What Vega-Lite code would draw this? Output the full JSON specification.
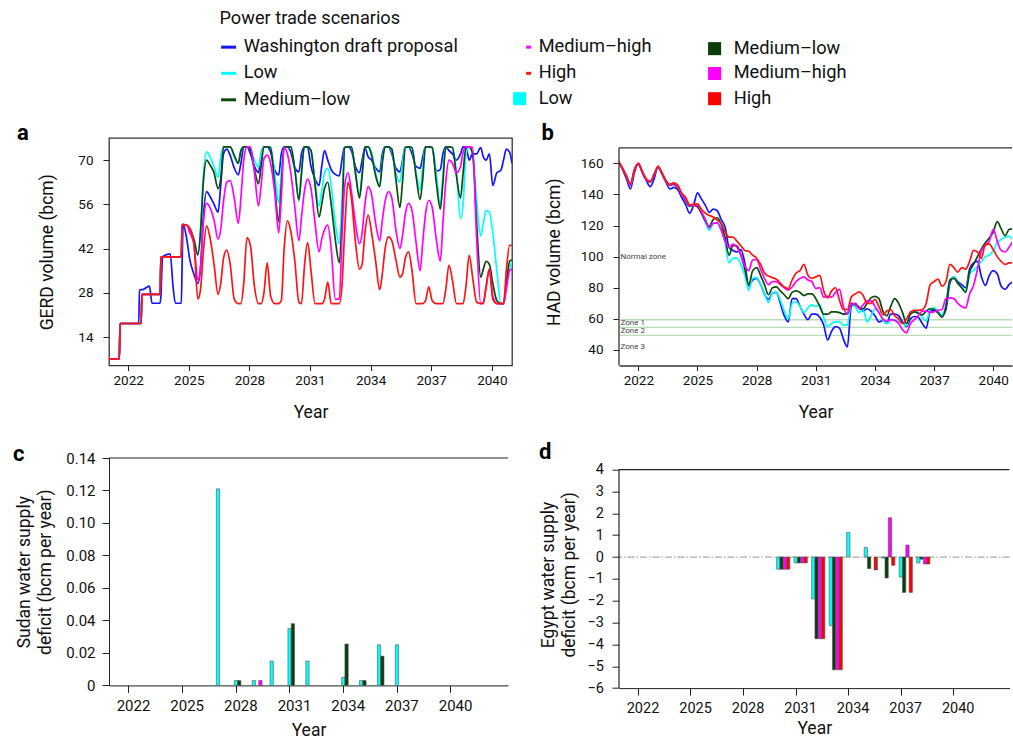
{
  "$schema": "https://vega.github.io/schema/vega-lite/v6.json",
  "padding": {"left": 13, "top": 9, "right": 0, "bottom": 0},
  "autosize": {"type": "pad"},
  "config": {
    "font": "Roboto",
    "view": {"stroke": null},
    "axis": {"labelFont": "Roboto", "titleFont": "Roboto", "labelColor": "#111", "titleColor": "#111", "titleFontWeight": "normal", "domainColor": "#222", "tickColor": "#222", "grid": false, "labelFontSize": 13.5, "titleFontSize": 17.5, "labelOverlap": false},
    "title": {"font": "Roboto", "fontSize": 22, "fontWeight": "bold", "anchor": "start", "frame": "group", "baseline": "alphabetic", "color": "#000"}
  },
  "datasets": {
    "gerd": [
      {"t":2021.05,"W":7.1,"L":7.1,"ML":7.1,"MH":7.1,"H":7.1},
      {"t":2021.56,"W":7.1,"L":7.1,"ML":7.1,"MH":7.1,"H":7.1},
      {"t":2021.6,"W":18.3,"L":18.3,"ML":18.3,"MH":18.3,"H":18.3},
      {"t":2022.52,"W":18.3,"L":18.3,"ML":18.3,"MH":18.3,"H":18.3},
      {"t":2022.56,"W":28.9,"L":18.3,"ML":18.3,"MH":18.3,"H":18.3},
      {"t":2022.64,"W":29,"L":18.3,"ML":18.3,"MH":18.3,"H":18.3},
      {"t":2022.68,"W":29,"L":27.5,"ML":27.5,"MH":27.5,"H":27.5},
      {"t":2023.05,"W":30.1,"L":27.5,"ML":27.5,"MH":27.5,"H":27.5},
      {"t":2023.18,"W":24.7,"L":27.5,"ML":27.5,"MH":27.5,"H":27.5},
      {"t":2023.58,"W":24.7,"L":27.5,"ML":27.5,"MH":27.5,"H":27.5},
      {"t":2023.62,"W":27,"L":39.4,"ML":39.4,"MH":39.4,"H":39.4},
      {"t":2023.7,"W":39.4,"L":39.4,"ML":39.4,"MH":39.4,"H":39.4},
      {"t":2024.08,"W":40.3,"L":39.4,"ML":39.4,"MH":39.4,"H":39.4},
      {"t":2024.22,"W":30,"L":39.4,"ML":39.4,"MH":39.4,"H":39.4},
      {"t":2024.34,"W":24.7,"L":39.4,"ML":39.4,"MH":39.4,"H":39.4},
      {"t":2024.63,"W":24.7,"L":39.4,"ML":39.4,"MH":39.4,"H":39.4},
      {"t":2024.67,"W":37,"L":49.6,"ML":49.6,"MH":49.6,"H":49.6},
      {"t":2024.72,"W":49.6,"L":49.6,"ML":49.6,"MH":49.6,"H":49.6},
      {"t":2024.9,"W":45,"L":49.4,"ML":49.4,"MH":49.4,"H":49.4},
      {"t":2025.05,"W":38.5,"L":48,"ML":48,"MH":47,"H":48.5},
      {"t":2025.25,"W":34,"L":45,"ML":45,"MH":43.5,"H":44},
      {"t":2025.45,"W":31,"L":40,"ML":40,"MH":32,"H":26},
      {"t":2025.58,"W":36,"L":48,"ML":47,"MH":36,"H":29},
      {"t":2025.72,"W":52,"L":65,"ML":63,"MH":50,"H":41},
      {"t":2025.88,"W":60,"L":72.6,"ML":70,"MH":56.3,"H":49.2},
      {"t":2026.05,"W":58.5,"L":71,"ML":68.5,"MH":55,"H":45.5},
      {"t":2026.25,"W":56,"L":68,"ML":66,"MH":51,"H":37},
      {"t":2026.45,"W":53.5,"L":64.5,"ML":61,"MH":45,"H":27.5},
      {"t":2026.58,"W":62,"L":71,"ML":64,"MH":48,"H":31},
      {"t":2026.72,"W":72,"L":74.2,"ML":74.2,"MH":57,"H":39},
      {"t":2026.88,"W":73.5,"L":74.2,"ML":74.2,"MH":63,"H":41.5},
      {"t":2027.05,"W":71.5,"L":74.2,"ML":74.2,"MH":63.5,"H":37},
      {"t":2027.25,"W":67.5,"L":71,"ML":71.5,"MH":58,"H":26},
      {"t":2027.45,"W":65.3,"L":69,"ML":69,"MH":50,"H":24.6},
      {"t":2027.58,"W":69,"L":73,"ML":73,"MH":58,"H":24.6},
      {"t":2027.72,"W":74.2,"L":74.2,"ML":74.2,"MH":70,"H":31},
      {"t":2027.88,"W":74.2,"L":74.2,"ML":74.2,"MH":74.2,"H":45.5},
      {"t":2028.05,"W":72,"L":73.5,"ML":73.5,"MH":74.2,"H":43},
      {"t":2028.25,"W":68,"L":70,"ML":67,"MH":66,"H":30},
      {"t":2028.45,"W":66,"L":67.8,"ML":62.5,"MH":55.5,"H":24.6},
      {"t":2028.58,"W":72,"L":72,"ML":68,"MH":62,"H":24.6},
      {"t":2028.72,"W":74.2,"L":74.2,"ML":74.2,"MH":70.5,"H":28},
      {"t":2028.88,"W":74.2,"L":74.2,"ML":74.2,"MH":71.6,"H":37.5},
      {"t":2029.05,"W":72.5,"L":74,"ML":74,"MH":69,"H":27},
      {"t":2029.25,"W":67,"L":66,"ML":62,"MH":60,"H":24.6},
      {"t":2029.45,"W":65.3,"L":56.5,"ML":50.5,"MH":47,"H":24.6},
      {"t":2029.58,"W":72,"L":66,"ML":62,"MH":58,"H":25.5},
      {"t":2029.72,"W":74.2,"L":74.2,"ML":74.2,"MH":74,"H":42},
      {"t":2029.88,"W":74.2,"L":74.2,"ML":74.2,"MH":72,"H":50.8},
      {"t":2030.05,"W":72.5,"L":74.2,"ML":74.2,"MH":66,"H":47.5},
      {"t":2030.25,"W":67.5,"L":67,"ML":67,"MH":55,"H":38},
      {"t":2030.45,"W":66.3,"L":57,"ML":57.5,"MH":44.5,"H":25},
      {"t":2030.58,"W":72,"L":66,"ML":66,"MH":52,"H":24.6},
      {"t":2030.72,"W":74.2,"L":74.2,"ML":74.2,"MH":60,"H":36},
      {"t":2030.88,"W":74,"L":74.2,"ML":74.2,"MH":64,"H":44},
      {"t":2031.05,"W":68,"L":73,"ML":73,"MH":61,"H":35},
      {"t":2031.25,"W":64,"L":63,"ML":62,"MH":50,"H":24.6},
      {"t":2031.45,"W":62,"L":55.5,"ML":52,"MH":41,"H":24.6},
      {"t":2031.58,"W":68,"L":60,"ML":56,"MH":45,"H":24.6},
      {"t":2031.72,"W":73,"L":66,"ML":61,"MH":48,"H":26},
      {"t":2031.88,"W":70,"L":67.4,"ML":63,"MH":49.4,"H":31.4},
      {"t":2032.05,"W":67,"L":62,"ML":56,"MH":42,"H":24.6},
      {"t":2032.25,"W":65.5,"L":50,"ML":45,"MH":26,"H":24.6},
      {"t":2032.45,"W":65,"L":43.5,"ML":37.5,"MH":26,"H":24.6},
      {"t":2032.58,"W":70,"L":56,"ML":50,"MH":45,"H":30},
      {"t":2032.72,"W":74.2,"L":74.2,"ML":74,"MH":62,"H":48},
      {"t":2032.88,"W":74.2,"L":74.2,"ML":74.2,"MH":66,"H":63},
      {"t":2033.05,"W":73,"L":74.2,"ML":74.2,"MH":60,"H":58},
      {"t":2033.25,"W":68,"L":66,"ML":66,"MH":50,"H":44},
      {"t":2033.45,"W":66,"L":59,"ML":58,"MH":43.5,"H":35.5},
      {"t":2033.58,"W":70,"L":66,"ML":65,"MH":47,"H":37},
      {"t":2033.72,"W":74,"L":74.2,"ML":74.2,"MH":56,"H":47},
      {"t":2033.88,"W":71,"L":74.2,"ML":74.2,"MH":61.6,"H":52.6},
      {"t":2034.05,"W":70,"L":72.5,"ML":71.5,"MH":59,"H":47},
      {"t":2034.25,"W":67.5,"L":66,"ML":65,"MH":50,"H":38},
      {"t":2034.45,"W":66.3,"L":61.6,"ML":61.6,"MH":44.5,"H":29},
      {"t":2034.58,"W":72,"L":70,"ML":69,"MH":51,"H":34},
      {"t":2034.72,"W":74.2,"L":74.2,"ML":74.2,"MH":57,"H":42},
      {"t":2034.88,"W":74.2,"L":74.2,"ML":74.2,"MH":60,"H":45.7},
      {"t":2035.05,"W":72,"L":73,"ML":73.5,"MH":58,"H":44.5},
      {"t":2035.25,"W":67.5,"L":66,"ML":64,"MH":48,"H":38.5},
      {"t":2035.45,"W":66.3,"L":63,"ML":55,"MH":42,"H":33},
      {"t":2035.58,"W":70,"L":69,"ML":63,"MH":46,"H":34},
      {"t":2035.72,"W":74.2,"L":74.2,"ML":74,"MH":53,"H":39},
      {"t":2035.88,"W":74.2,"L":74.2,"ML":74.2,"MH":56.3,"H":41},
      {"t":2036.05,"W":72,"L":73.5,"ML":74,"MH":54,"H":35},
      {"t":2036.25,"W":68,"L":66,"ML":65,"MH":44,"H":24.6},
      {"t":2036.45,"W":67.4,"L":60.5,"ML":57.5,"MH":35,"H":24.6},
      {"t":2036.58,"W":71,"L":68,"ML":64,"MH":44,"H":24.6},
      {"t":2036.72,"W":74.2,"L":74.2,"ML":74.2,"MH":53,"H":25.5},
      {"t":2036.88,"W":74.2,"L":74.2,"ML":74.2,"MH":57.3,"H":29.9},
      {"t":2037.05,"W":74,"L":74,"ML":74,"MH":55,"H":25.5},
      {"t":2037.25,"W":66.5,"L":66,"ML":63,"MH":45,"H":24.6},
      {"t":2037.45,"W":67,"L":55.5,"ML":54.5,"MH":38,"H":24.6},
      {"t":2037.58,"W":72,"L":65,"ML":63,"MH":50,"H":24.6},
      {"t":2037.72,"W":74.2,"L":74.2,"ML":74.2,"MH":63,"H":29},
      {"t":2037.88,"W":73,"L":74.2,"ML":74.2,"MH":70,"H":36.8},
      {"t":2038.05,"W":72,"L":74,"ML":74,"MH":69,"H":32},
      {"t":2038.25,"W":70,"L":66,"ML":65,"MH":66,"H":24.6},
      {"t":2038.45,"W":72,"L":51.5,"ML":58,"MH":68,"H":24.6},
      {"t":2038.58,"W":74.2,"L":56,"ML":66,"MH":72.5,"H":24.6},
      {"t":2038.72,"W":74.2,"L":72,"ML":74.2,"MH":74.2,"H":30},
      {"t":2038.88,"W":70,"L":74.2,"ML":74.2,"MH":74.2,"H":39.9},
      {"t":2039.05,"W":72,"L":72,"ML":72,"MH":74,"H":33},
      {"t":2039.25,"W":72,"L":57,"ML":50,"MH":45,"H":25},
      {"t":2039.45,"W":74,"L":46,"ML":33,"MH":24.6,"H":24.6},
      {"t":2039.58,"W":71,"L":50,"ML":35.5,"MH":25,"H":24.6},
      {"t":2039.72,"W":70,"L":54,"ML":38,"MH":30,"H":30},
      {"t":2039.88,"W":72,"L":53.5,"ML":37,"MH":35.5,"H":35.5},
      {"t":2040.05,"W":62,"L":47,"ML":31,"MH":27,"H":26},
      {"t":2040.25,"W":66,"L":35,"ML":25.5,"MH":24.6,"H":24.6},
      {"t":2040.45,"W":66.8,"L":24.6,"ML":24.6,"MH":24.6,"H":24.6},
      {"t":2040.58,"W":70,"L":24.6,"ML":24.6,"MH":24.6,"H":24.6},
      {"t":2040.72,"W":73.5,"L":31,"ML":31,"MH":29,"H":35},
      {"t":2040.88,"W":72.5,"L":36,"ML":38,"MH":35,"H":43},
      {"t":2041.0,"W":69,"L":37.8,"ML":38.4,"MH":35.5,"H":43}
    ],
    "had": [
      {"t":2021.0,"W":161,"L":161,"ML":161,"MH":161,"H":161.5},
      {"t":2021.2,"W":156,"L":156.5,"ML":156.5,"MH":156.5,"H":157},
      {"t":2021.4,"W":150,"L":151.5,"ML":151.5,"MH":151.5,"H":152},
      {"t":2021.6,"W":143.5,"L":146,"ML":146,"MH":146,"H":147},
      {"t":2021.8,"W":154,"L":155.5,"ML":155.5,"MH":155.5,"H":156},
      {"t":2022.0,"W":160,"L":159.5,"ML":159.5,"MH":159.5,"H":160},
      {"t":2022.2,"W":154,"L":154.5,"ML":154.5,"MH":154.5,"H":155},
      {"t":2022.4,"W":149,"L":149.5,"ML":149.5,"MH":149.5,"H":150},
      {"t":2022.6,"W":145,"L":148,"ML":148,"MH":148,"H":148.5},
      {"t":2022.8,"W":150,"L":152.5,"ML":152.5,"MH":152.5,"H":153},
      {"t":2023.0,"W":158,"L":157.5,"ML":157.5,"MH":157.5,"H":158},
      {"t":2023.2,"W":153,"L":153.5,"ML":153.5,"MH":153.5,"H":154},
      {"t":2023.4,"W":148,"L":148.5,"ML":148.5,"MH":148.5,"H":149},
      {"t":2023.6,"W":143.5,"L":146,"ML":146,"MH":146,"H":146.5},
      {"t":2023.8,"W":144.5,"L":146.5,"ML":146.5,"MH":147,"H":147.5},
      {"t":2024.0,"W":143,"L":144.5,"ML":144.5,"MH":145,"H":146},
      {"t":2024.2,"W":138,"L":140,"ML":140,"MH":140,"H":141},
      {"t":2024.4,"W":133.5,"L":136,"ML":136,"MH":136.5,"H":138},
      {"t":2024.6,"W":128,"L":132.5,"ML":132.5,"MH":133,"H":133.5},
      {"t":2024.8,"W":133,"L":133,"ML":133,"MH":133,"H":133.5},
      {"t":2025.0,"W":141,"L":132.5,"ML":132,"MH":133,"H":134},
      {"t":2025.2,"W":137,"L":128,"ML":128,"MH":129,"H":130.5},
      {"t":2025.4,"W":133,"L":122,"ML":123,"MH":124,"H":128},
      {"t":2025.6,"W":128.5,"L":117,"ML":119.5,"MH":118.5,"H":126.5},
      {"t":2025.8,"W":130.5,"L":121,"ML":124,"MH":121.5,"H":125.5},
      {"t":2026.0,"W":129.5,"L":122,"ML":125,"MH":121.5,"H":123.5},
      {"t":2026.2,"W":124,"L":118,"ML":121,"MH":117,"H":121.5},
      {"t":2026.4,"W":119,"L":109,"ML":112,"MH":110,"H":116},
      {"t":2026.6,"W":106,"L":96,"ML":101,"MH":106,"H":112.5},
      {"t":2026.8,"W":104,"L":99,"ML":107,"MH":108,"H":112.5},
      {"t":2027.0,"W":103,"L":99,"ML":107,"MH":106,"H":110},
      {"t":2027.2,"W":104.5,"L":95,"ML":101,"MH":101,"H":107},
      {"t":2027.4,"W":96,"L":88,"ML":92,"MH":94,"H":104},
      {"t":2027.6,"W":81,"L":78.5,"ML":82,"MH":91,"H":103.5},
      {"t":2027.8,"W":85,"L":86,"ML":91,"MH":98,"H":101},
      {"t":2028.0,"W":86,"L":86.5,"ML":93,"MH":98,"H":99},
      {"t":2028.2,"W":82,"L":82,"ML":88,"MH":92,"H":95},
      {"t":2028.4,"W":76,"L":76,"ML":82,"MH":86,"H":89.5},
      {"t":2028.6,"W":72.5,"L":70.5,"ML":75.5,"MH":82,"H":87.5},
      {"t":2028.8,"W":76.5,"L":76.5,"ML":80,"MH":84,"H":86.5},
      {"t":2029.0,"W":77,"L":77,"ML":80.5,"MH":84,"H":85.5},
      {"t":2029.2,"W":70,"L":72,"ML":78,"MH":82,"H":83},
      {"t":2029.4,"W":62,"L":65,"ML":75.5,"MH":80,"H":80.5},
      {"t":2029.6,"W":58,"L":60,"ML":73,"MH":78.5,"H":79.5},
      {"t":2029.8,"W":73,"L":70,"ML":77,"MH":80.5,"H":85},
      {"t":2030.0,"W":73,"L":71,"ML":78,"MH":84,"H":89.5},
      {"t":2030.2,"W":68,"L":68,"ML":77,"MH":86,"H":91},
      {"t":2030.4,"W":63,"L":64,"ML":75,"MH":87,"H":95},
      {"t":2030.6,"W":59.5,"L":67,"ML":76,"MH":85,"H":88},
      {"t":2030.8,"W":63,"L":69,"ML":76,"MH":84,"H":86},
      {"t":2031.0,"W":63,"L":68,"ML":73,"MH":79.5,"H":87},
      {"t":2031.2,"W":61,"L":69,"ML":68,"MH":80,"H":88},
      {"t":2031.4,"W":56,"L":61,"ML":63,"MH":74,"H":78},
      {"t":2031.6,"W":46.5,"L":55,"ML":63,"MH":74.5,"H":73.5},
      {"t":2031.8,"W":52,"L":57,"ML":64.5,"MH":74,"H":78},
      {"t":2032.0,"W":55,"L":58,"ML":64.5,"MH":77,"H":80},
      {"t":2032.2,"W":54,"L":58,"ML":64,"MH":79,"H":72},
      {"t":2032.4,"W":47,"L":56,"ML":63,"MH":68,"H":66},
      {"t":2032.6,"W":42,"L":56,"ML":63.5,"MH":63,"H":66},
      {"t":2032.8,"W":68,"L":70,"ML":70,"MH":70,"H":74},
      {"t":2033.0,"W":70,"L":68,"ML":69,"MH":69.5,"H":76},
      {"t":2033.2,"W":67,"L":64,"ML":67.5,"MH":66.5,"H":77.3},
      {"t":2033.4,"W":65,"L":66,"ML":66.5,"MH":69,"H":75},
      {"t":2033.6,"W":66.5,"L":58,"ML":70,"MH":71.5,"H":70},
      {"t":2033.8,"W":65,"L":62,"ML":73.5,"MH":71.5,"H":70},
      {"t":2034.0,"W":62,"L":66.5,"ML":74.5,"MH":68,"H":72.5},
      {"t":2034.2,"W":58,"L":64,"ML":73,"MH":64,"H":68},
      {"t":2034.4,"W":59,"L":59,"ML":65,"MH":60,"H":62.5},
      {"t":2034.6,"W":57,"L":57,"ML":62,"MH":58.5,"H":65},
      {"t":2034.8,"W":63,"L":59,"ML":68,"MH":59.5,"H":66},
      {"t":2035.0,"W":63,"L":59.5,"ML":73,"MH":59,"H":62},
      {"t":2035.2,"W":62,"L":58,"ML":70,"MH":57,"H":60},
      {"t":2035.4,"W":58,"L":57,"ML":64,"MH":53,"H":57},
      {"t":2035.6,"W":55,"L":55.5,"ML":57,"MH":51,"H":60},
      {"t":2035.8,"W":60,"L":64,"ML":63,"MH":57,"H":64.5},
      {"t":2036.0,"W":61.5,"L":65.5,"ML":64.5,"MH":59.5,"H":65.5},
      {"t":2036.2,"W":61,"L":64,"ML":63.5,"MH":62,"H":65.5},
      {"t":2036.4,"W":57,"L":61,"ML":62.5,"MH":65,"H":66},
      {"t":2036.6,"W":54,"L":58.5,"ML":65,"MH":65,"H":70},
      {"t":2036.8,"W":65,"L":66,"ML":66.5,"MH":64,"H":82},
      {"t":2037.0,"W":65.5,"L":67,"ML":66,"MH":64.5,"H":84},
      {"t":2037.2,"W":64,"L":65,"ML":64,"MH":65.5,"H":85.5},
      {"t":2037.4,"W":62,"L":62.5,"ML":61,"MH":66,"H":81},
      {"t":2037.6,"W":66,"L":69,"ML":68,"MH":73,"H":84},
      {"t":2037.8,"W":83,"L":85,"ML":85,"MH":73.5,"H":95},
      {"t":2038.0,"W":87,"L":87,"ML":86,"MH":73,"H":93},
      {"t":2038.2,"W":84,"L":83,"ML":83,"MH":70,"H":90},
      {"t":2038.4,"W":82,"L":80,"ML":80,"MH":68,"H":93},
      {"t":2038.6,"W":80,"L":78,"ML":77,"MH":67,"H":92},
      {"t":2038.8,"W":92,"L":89,"ML":90,"MH":76,"H":97},
      {"t":2039.0,"W":96,"L":91,"ML":95,"MH":81.5,"H":104},
      {"t":2039.2,"W":97,"L":94,"ML":100,"MH":92,"H":103},
      {"t":2039.4,"W":87,"L":97,"ML":105,"MH":104,"H":99},
      {"t":2039.6,"W":81.5,"L":100,"ML":109,"MH":107,"H":108},
      {"t":2039.8,"W":88,"L":101,"ML":112,"MH":110,"H":108},
      {"t":2040.0,"W":91,"L":104,"ML":116,"MH":117.5,"H":104.5},
      {"t":2040.2,"W":89,"L":109,"ML":122.5,"MH":110,"H":100},
      {"t":2040.4,"W":81,"L":111,"ML":118,"MH":104,"H":97},
      {"t":2040.6,"W":79,"L":112.5,"ML":113.5,"MH":103,"H":95},
      {"t":2040.8,"W":82,"L":113,"ML":117.5,"MH":106,"H":96},
      {"t":2041.0,"W":84,"L":111,"ML":118,"MH":110,"H":96}
    ],
    "sudan": [
      {"year":2027,"s":"Lb","v":0.121},
      {"year":2028,"s":"Lb","v":0.003},{"year":2028,"s":"MLb","v":0.003},
      {"year":2029,"s":"Lb","v":0.003},{"year":2029,"s":"MHb","v":0.003},
      {"year":2030,"s":"Lb","v":0.015},
      {"year":2031,"s":"Lb","v":0.035},{"year":2031,"s":"MLb","v":0.038},
      {"year":2032,"s":"Lb","v":0.015},
      {"year":2034,"s":"Lb","v":0.005},{"year":2034,"s":"MLb","v":0.0255},
      {"year":2035,"s":"Lb","v":0.003},{"year":2035,"s":"MLb","v":0.003},
      {"year":2036,"s":"Lb","v":0.025},{"year":2036,"s":"MLb","v":0.018},
      {"year":2037,"s":"Lb","v":0.025}
    ],
    "egypt": [
      {"year":2030,"s":"Lb","v":-0.56},{"year":2030,"s":"MLb","v":-0.56},{"year":2030,"s":"MHb","v":-0.56},{"year":2030,"s":"Hb","v":-0.56},
      {"year":2031,"s":"Lb","v":-0.27},{"year":2031,"s":"MLb","v":-0.27},{"year":2031,"s":"MHb","v":-0.27},{"year":2031,"s":"Hb","v":-0.27},
      {"year":2032,"s":"Lb","v":-1.92},{"year":2032,"s":"MLb","v":-3.74},{"year":2032,"s":"MHb","v":-3.74},{"year":2032,"s":"Hb","v":-3.74},
      {"year":2033,"s":"Lb","v":-3.14},{"year":2033,"s":"MLb","v":-5.16},{"year":2033,"s":"MHb","v":-5.16},{"year":2033,"s":"Hb","v":-5.16},
      {"year":2034,"s":"Lb","v":1.13},
      {"year":2035,"s":"Lb","v":0.44},{"year":2035,"s":"MLb","v":-0.53},{"year":2035,"s":"Hb","v":-0.59},
      {"year":2036,"s":"Lb","v":-0.05},{"year":2036,"s":"MLb","v":-0.96},{"year":2036,"s":"MHb","v":1.8},{"year":2036,"s":"Hb","v":-0.38},
      {"year":2037,"s":"Lb","v":-0.92},{"year":2037,"s":"MLb","v":-1.62},{"year":2037,"s":"MHb","v":0.55},{"year":2037,"s":"Hb","v":-1.62},
      {"year":2038,"s":"Lb","v":-0.27},{"year":2038,"s":"MLb","v":-0.1},{"year":2038,"s":"MHb","v":-0.32},{"year":2038,"s":"Hb","v":-0.32}
    ]
  },
  "spacing": 26,
  "align": "none",
  "hconcat": [
    {
      "spacing": 21,
      "align": "none",
      "vconcat": [
        {
          "width": 403, "height": 227.5,
          "title": {"text": "a", "dx": -92, "offset": -6.8},
          "view": {"stroke": "#333", "strokeWidth": 1.3},
          "data": {"name": "gerd"},
          "transform": [{"fold": ["W","L","ML","MH","H"], "as": ["s","v"]}],
          "mark": {"type": "line", "strokeWidth": 1.7, "interpolate": "monotone", "clip": true},
          "encoding": {
            "x": {"field": "t", "type": "quantitative", "scale": {"domain": [2021.05, 2041], "nice": false, "zero": false},
                  "axis": {"values": [2022,2025,2028,2031,2034,2037,2040], "format": "d", "title": "Year", "domain": false, "tickSize": 5, "labelPadding": 3, "titlePadding": 16}},
            "y": {"field": "v", "type": "quantitative", "scale": {"domain": [5, 77], "nice": false, "zero": false},
                  "axis": {"values": [14,28,42,56,70], "title": "GERD volume (bcm)", "domain": false, "tickSize": 6, "labelPadding": 10, "titlePadding": 21}},
            "stroke": {"field": "s", "type": "nominal",
              "scale": {"domain": ["W","L","ML","MH","H"], "range": ["#1414ff","#00ffff","#0d4a0d","#ff00ff","#ff1414"]},
              "legend": {
                "orient": "none", "legendX": 110.5, "legendY": -128.5, "padding": 0,
                "columns": 2, "columnPadding": 51, "rowPadding": 7.5, "symbolType": "stroke", "symbolSize": 225, "symbolStrokeWidth": 3, "labelOffset": 6,
                "title": "Power trade scenarios", "titleFont": "Roboto", "titleFontSize": 18.2, "titleFontWeight": "normal", "titleColor": "#111", "titlePadding": 10, "titleLimit": 500,
                "labelFont": "Roboto", "labelFontSize": 18.2, "labelColor": "#111", "labelLimit": 400,
                "labelExpr": "datum.value == 'W' ? 'Washington draft proposal' : datum.value == 'L' ? 'Low' : datum.value == 'ML' ? 'Medium–low' : datum.value == 'MH' ? 'Medium–high' : 'High'"
              }
            }
          }
        },
        {
          "width": 399, "height": 227.4,
          "title": {"text": "c", "dx": -96, "offset": -15},
          "layer": [
            {
              "data": {"name": "sudan"},
              "mark": {"type": "bar", "stroke": "#555", "strokeWidth": 0.6},
              "encoding": {
                "x": {"field": "year", "type": "ordinal",
                      "scale": {"type": "band", "domain": [2021,2022,2023,2024,2025,2026,2027,2028,2029,2030,2031,2032,2033,2034,2035,2036,2037,2038,2039,2040,2041,2042], "paddingInner": 0.26, "paddingOuter": 0.28, "align": 0},
                      "axis": {"values": [2022,2025,2028,2031,2034,2037,2040], "bandPosition": 0.15, "labelAngle": 0, "title": "Year", "tickSize": 7, "labelPadding": 6, "labelFontSize": 15, "titlePadding": 8}},
                "xOffset": {"field": "s", "type": "nominal", "scale": {"domain": ["Lb","MLb","MHb","Hb"]}},
                "y": {"field": "v", "type": "quantitative", "scale": {"domain": [0, 0.14], "nice": false},
                      "axis": {"values": [0,0.02,0.04,0.06,0.08,0.1,0.12,0.14], "labelOverlap": false, "labelExpr": "datum.value == 0 ? '0' : format(datum.value, '.2f')", "title": ["Sudan water supply", "deficit (bcm per year)"], "tickSize": 7, "labelPadding": 7, "labelFontSize": 15, "titlePadding": 11, "titleLineHeight": 21}},
                "fill": {"field": "s", "type": "nominal",
                  "scale": {"domain": ["_a","_b","Lb","MLb","MHb","Hb"], "range": ["#ffffff","#ffffff","#00ffff","#0b3d0b","#ff00ff","#ff0000"]},
                  "legend": {
                    "orient": "none", "legendX": 401.5, "legendY": -98.8, "padding": 0,
                    "columns": 2, "columnPadding": 132, "rowPadding": 6.2, "symbolType": "square", "symbolSize": 170, "symbolStrokeWidth": 0, "labelOffset": 10,
                    "title": null,
                    "labelFont": "Roboto", "labelFontSize": 18.2, "labelColor": "#111", "labelLimit": 400,
                    "labelExpr": "datum.value == 'Lb' ? 'Low' : datum.value == 'MLb' ? 'Medium–low' : datum.value == 'MHb' ? 'Medium–high' : datum.value == 'Hb' ? 'High' : ''"
                  }
                }
              }
            },
            {
              "data": {"values": [{"top": 0.14}]},
              "mark": {"type": "rule", "color": "#222", "strokeWidth": 1.2},
              "encoding": {"y": {"field": "top", "type": "quantitative", "scale": {"domain": [0, 0.14], "nice": false},
                      "axis": {"values": [0,0.02,0.04,0.06,0.08,0.1,0.12,0.14], "labelOverlap": false, "labelExpr": "datum.value == 0 ? '0' : format(datum.value, '.2f')", "title": ["Sudan water supply", "deficit (bcm per year)"], "tickSize": 7, "labelPadding": 7, "labelFontSize": 15, "titlePadding": 11, "titleLineHeight": 21}}}
            }
          ]
        }
      ]
    },
    {
      "spacing": 19.7,
      "align": "none",
      "vconcat": [
        {
          "width": 393, "height": 227.5,
          "title": {"text": "b", "dx": -77.6, "offset": -6.8},
          "layer": [
            {
              "data": {"values": [{"z": 59.4}, {"z": 54.5}, {"z": 49.4}]},
              "mark": {"type": "rule", "color": "#b9dcb9", "strokeWidth": 1.4},
              "encoding": {"y": {"field": "z", "type": "quantitative", "scale": {"domain": [30, 176.3], "nice": false, "zero": false},
                "axis": {"values": [40,60,80,100,120,140,160], "labelOverlap": false, "title": "HAD volume (bcm)", "domain": false, "tickSize": 6, "labelPadding": 10, "titlePadding": 16.5}}}
            },
            {
              "data": {"values": [{"label": "Normal zone", "yv": 100}, {"label": "Zone 1", "yv": 57.2}, {"label": "Zone 2", "yv": 51.9}, {"label": "Zone 3", "yv": 41.6}]},
              "mark": {"type": "text", "align": "left", "baseline": "middle", "fontSize": 8, "color": "#444", "font": "Roboto"},
              "encoding": {
                "x": {"datum": 2021.1, "type": "quantitative", "scale": {"domain": [2021.02, 2040.95], "nice": false, "zero": false},
                      "axis": {"values": [2022,2025,2028,2031,2034,2037,2040], "format": "d", "title": "Year", "domain": true, "domainColor": "#333", "domainWidth": 1.3, "tickSize": 5, "labelPadding": 3, "titlePadding": 16}},
                "y": {"field": "yv", "type": "quantitative", "scale": {"domain": [30, 176.3], "nice": false, "zero": false},
                "axis": {"values": [40,60,80,100,120,140,160], "labelOverlap": false, "title": "HAD volume (bcm)", "domain": false, "tickSize": 6, "labelPadding": 10, "titlePadding": 16.5}},
                "text": {"field": "label"}}
            },
            {
              "data": {"name": "had"},
              "transform": [{"fold": ["W","L","ML","MH","H"], "as": ["s","v"]}],
              "mark": {"type": "line", "strokeWidth": 1.7, "interpolate": "monotone", "clip": true},
              "encoding": {
                "x": {"field": "t", "type": "quantitative", "scale": {"domain": [2021.02, 2040.95], "nice": false, "zero": false},
                      "axis": {"values": [2022,2025,2028,2031,2034,2037,2040], "format": "d", "title": "Year", "domain": true, "domainColor": "#333", "domainWidth": 1.3, "tickSize": 5, "labelPadding": 3, "titlePadding": 16}},
                "y": {"field": "v", "type": "quantitative", "scale": {"domain": [30, 176.3], "nice": false, "zero": false},
                "axis": {"values": [40,60,80,100,120,140,160], "labelOverlap": false, "title": "HAD volume (bcm)", "domain": false, "tickSize": 6, "labelPadding": 10, "titlePadding": 16.5}},
                "stroke": {"field": "s", "type": "nominal",
                  "scale": {"domain": ["W","L","ML","MH","H"], "range": ["#1414ff","#00ffff","#0d4a0d","#ff00ff","#ff1414"]}}
              }
            },
            {
              "data": {"values": [{"frame": 170}]},
              "mark": {"type": "rule", "color": "#333", "strokeWidth": 1.3},
              "encoding": {"y": {"field": "frame", "type": "quantitative", "scale": {"domain": [30, 176.3], "nice": false, "zero": false},
                "axis": {"values": [40,60,80,100,120,140,160], "labelOverlap": false, "title": "HAD volume (bcm)", "domain": false, "tickSize": 6, "labelPadding": 10, "titlePadding": 16.5}}}
            },
            {
              "data": {"values": [{"x0": 2021.02, "lo": 30, "hi": 170}]},
              "mark": {"type": "rule", "color": "#333", "strokeWidth": 1.3},
              "encoding": {
                "x": {"field": "x0", "type": "quantitative", "scale": {"domain": [2021.02, 2040.95], "nice": false, "zero": false},
                      "axis": {"values": [2022,2025,2028,2031,2034,2037,2040], "format": "d", "title": "Year", "domain": true, "domainColor": "#333", "domainWidth": 1.3, "tickSize": 5, "labelPadding": 3, "titlePadding": 16}},
                "y": {"field": "lo", "type": "quantitative", "scale": {"domain": [30, 176.3], "nice": false, "zero": false},
                "axis": {"values": [40,60,80,100,120,140,160], "labelOverlap": false, "title": "HAD volume (bcm)", "domain": false, "tickSize": 6, "labelPadding": 10, "titlePadding": 16.5}},
                "y2": {"field": "hi"}
              }
            }
          ]
        },
        {
          "width": 390.5, "height": 227.4,
          "title": {"text": "d", "dx": -80, "offset": -3.7},
          "layer": [
            {
              "data": {"values": [{"zero": 0}]},
              "mark": {"type": "rule", "color": "#aaaaaa", "strokeWidth": 1.2, "strokeDash": [7, 2, 1.5, 2]},
              "encoding": {"y": {"field": "zero", "type": "quantitative", "scale": {"domain": [-6, 4.41], "nice": false, "zero": false},
                "axis": {"values": [-6,-5,-4,-3,-2,-1,0,1,2,3,4], "labelOverlap": false, "format": "d", "title": ["Egypt water supply", "deficit (bcm per year)"], "domain": false, "tickSize": 7, "labelPadding": 8.5, "labelFontSize": 14.5, "titlePadding": 9, "titleLineHeight": 21}}}
            },
            {
              "data": {"name": "egypt"},
              "mark": {"type": "bar", "stroke": "#555", "strokeWidth": 0.6},
              "encoding": {
                "x": {"field": "year", "type": "ordinal",
                      "scale": {"type": "band", "domain": [2021,2022,2023,2024,2025,2026,2027,2028,2029,2030,2031,2032,2033,2034,2035,2036,2037,2038,2039,2040,2041,2042], "paddingInner": 0.26, "paddingOuter": 0.28, "align": 0},
                      "axis": {"values": [2022,2025,2028,2031,2034,2037,2040], "bandPosition": 0.15, "labelAngle": 0, "title": "Year", "tickSize": 7, "labelPadding": 6, "labelFontSize": 14.5, "titlePadding": 5}},
                "xOffset": {"field": "s", "type": "nominal", "scale": {"domain": ["Lb","MLb","MHb","Hb"]}},
                "y": {"field": "v", "type": "quantitative", "scale": {"domain": [-6, 4.41], "nice": false, "zero": false},
                "axis": {"values": [-6,-5,-4,-3,-2,-1,0,1,2,3,4], "labelOverlap": false, "format": "d", "title": ["Egypt water supply", "deficit (bcm per year)"], "domain": false, "tickSize": 7, "labelPadding": 8.5, "labelFontSize": 14.5, "titlePadding": 9, "titleLineHeight": 21}},
                "fill": {"field": "s", "type": "nominal",
                  "scale": {"domain": ["_a","_b","Lb","MLb","MHb","Hb"], "range": ["#ffffff","#ffffff","#00ffff","#0b3d0b","#ff00ff","#ff0000"]}}
              }
            },
            {
              "data": {"values": [{"top": 4}]},
              "mark": {"type": "rule", "color": "#222", "strokeWidth": 1.2},
              "encoding": {"y": {"field": "top", "type": "quantitative", "scale": {"domain": [-6, 4.41], "nice": false, "zero": false},
                "axis": {"values": [-6,-5,-4,-3,-2,-1,0,1,2,3,4], "labelOverlap": false, "format": "d", "title": ["Egypt water supply", "deficit (bcm per year)"], "domain": false, "tickSize": 7, "labelPadding": 8.5, "labelFontSize": 14.5, "titlePadding": 9, "titleLineHeight": 21}}}
            },
            {
              "data": {"values": [{"edge": 2021, "lo": -6, "hi": 4}]},
              "mark": {"type": "rule", "color": "#222", "strokeWidth": 1.2},
              "encoding": {
                "x": {"field": "edge", "type": "ordinal", "bandPosition": 0,
                      "scale": {"type": "band", "domain": [2021,2022,2023,2024,2025,2026,2027,2028,2029,2030,2031,2032,2033,2034,2035,2036,2037,2038,2039,2040,2041,2042], "paddingInner": 0.26, "paddingOuter": 0.28, "align": 0},
                      "axis": {"values": [2022,2025,2028,2031,2034,2037,2040], "bandPosition": 0.15, "labelAngle": 0, "title": "Year", "tickSize": 7, "labelPadding": 6, "labelFontSize": 14.5, "titlePadding": 5}},
                "y": {"field": "lo", "type": "quantitative", "scale": {"domain": [-6, 4.41], "nice": false, "zero": false},
                "axis": {"values": [-6,-5,-4,-3,-2,-1,0,1,2,3,4], "labelOverlap": false, "format": "d", "title": ["Egypt water supply", "deficit (bcm per year)"], "domain": false, "tickSize": 7, "labelPadding": 8.5, "labelFontSize": 14.5, "titlePadding": 9, "titleLineHeight": 21}},
                "y2": {"field": "hi"}
              }
            }
          ]
        }
      ]
    }
  ]
}
